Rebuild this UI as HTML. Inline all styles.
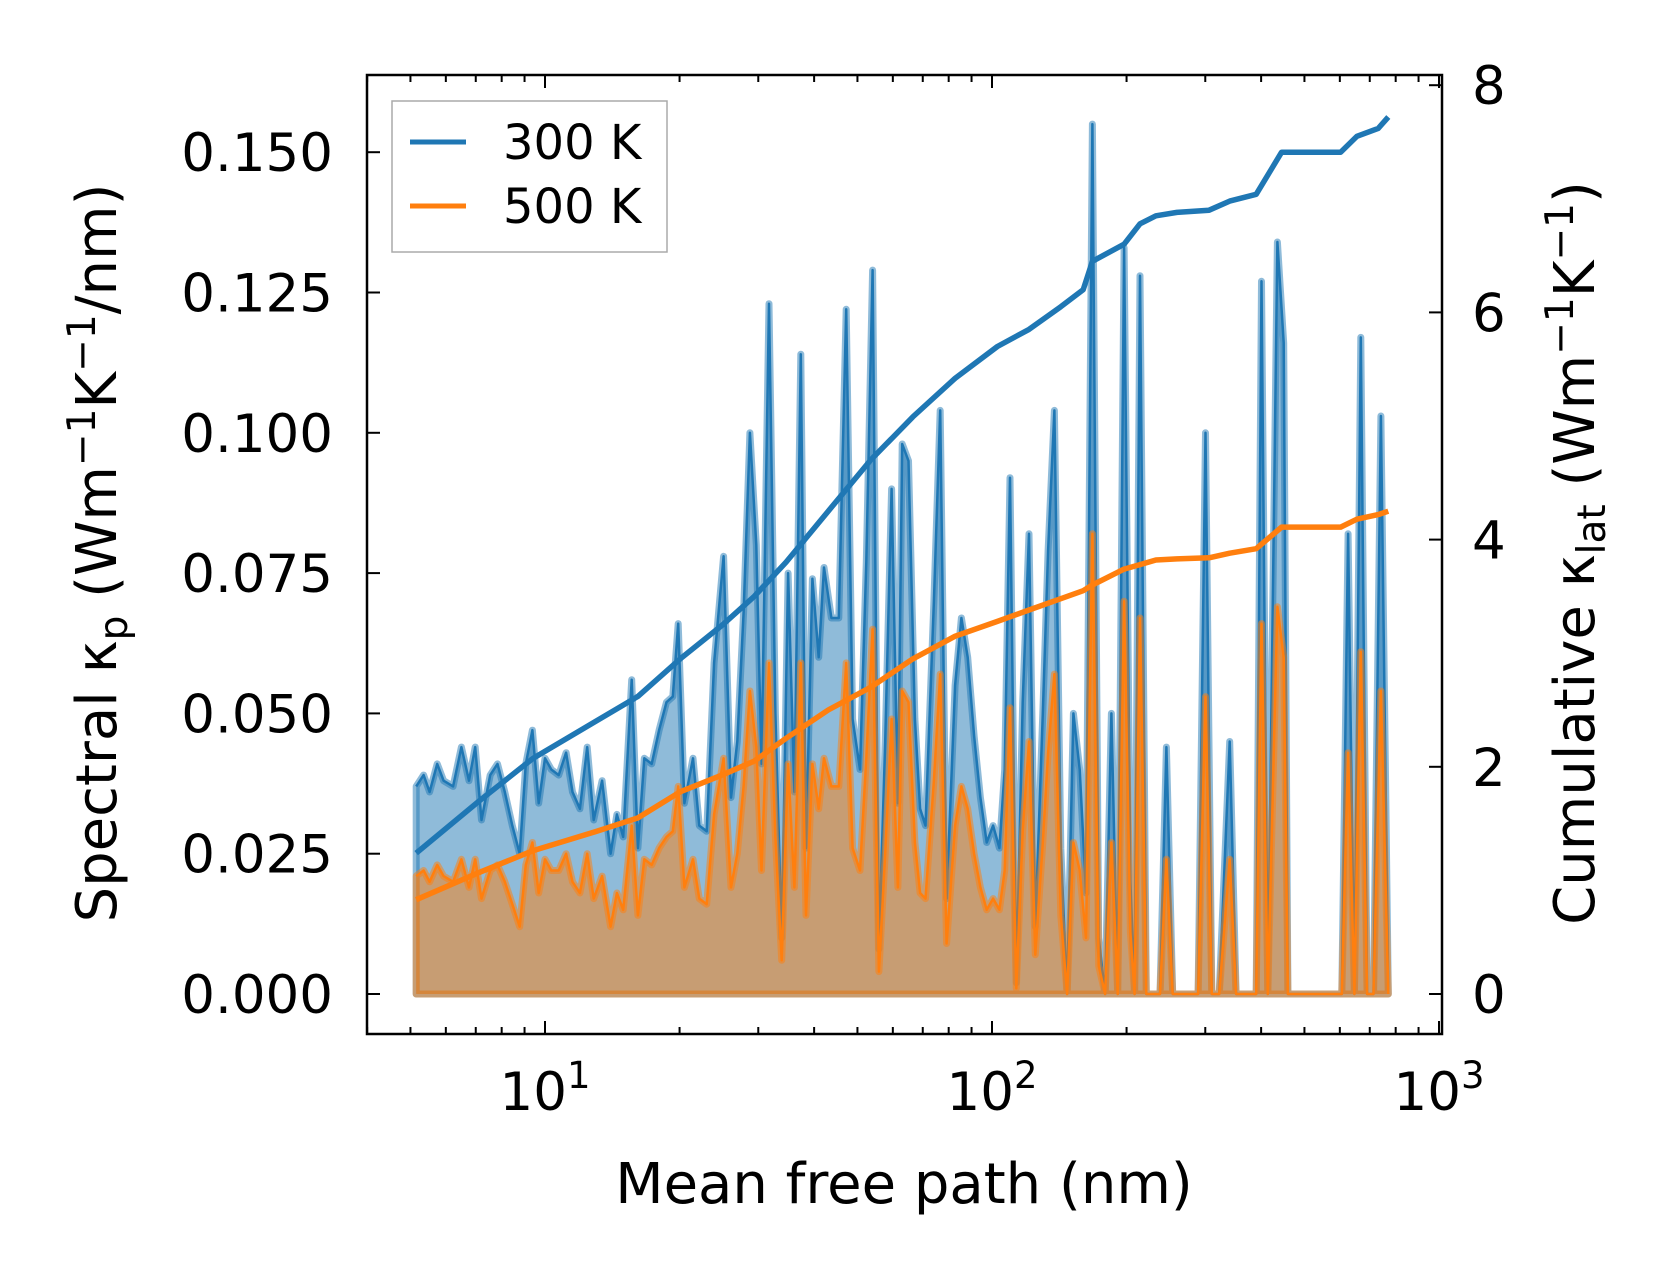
<!DOCTYPE html>
<html><head><meta charset="utf-8"><style>
body{margin:0;background:#fff}
svg text{font-family:"DejaVu Sans","Liberation Sans",sans-serif;fill:#000}
</style></head><body>
<svg id="chart" width="1660" height="1269" viewBox="0 0 1660 1269" xmlns="http://www.w3.org/2000/svg">
<rect width="1660" height="1269" fill="#fff"/>
<g id="plot"></g>
<g id="axes"></g>
</svg>
<script>
const mfp=[5.15,5.35,5.52,5.74,5.93,6.23,6.50,6.76,6.98,7.21,7.54,7.83,8.13,8.45,8.78,9.06,9.37,9.68,10,10.33,10.73,11.15,11.52,11.97,12.43,12.85,13.42,14.02,14.48,14.96,15.63,16.14,16.68,17.33,18.00,18.70,19.32,19.86,20.51,21.43,22.14,23.00,23.89,25.09,26.07,26.93,27.82,28.74,29.70,30.51,31.71,32.76,33.85,34.98,36.14,37.34,38.37,39.65,40.96,42.09,43.73,45.43,47.19,48.76,50.66,52.33,54.07,55.85,57.70,59.62,61.60,62.96,65.04,67.21,69.06,70.98,74.13,76.59,79.13,82.67,85.42,88.25,91.18,94.19,97.32,100.55,103.87,106.76,109.70,113.35,117.12,120.99,125.0,129.9,133.5,137.9,142.5,147.2,152.1,157.1,162.3,167.7,173.3,179.1,185.0,191.1,197.5,204.0,208.5,214.3,221.4,230.0,237.6,245.5,253.7,262.0,270.7,289.1,300.3,310.2,322.3,340.3,351.6,369.3,389.9,400.7,414.0,434.9,449.4,459.2,498.2,586.6,606.0,626.1,646.9,668.6,690.6,713.5,741.3,770.0];
const spec300=[.037,.039,.036,.041,.038,.037,.044,.038,.044,.031,.039,.041,.036,.030,.025,.041,.047,.034,.042,.040,.039,.043,.036,.033,.044,.031,.038,.025,.032,.028,.056,.026,.042,.041,.047,.052,.053,.066,.034,.042,.030,.029,.059,.078,.035,.045,.068,.100,.080,.041,.123,.050,.010,.075,.036,.114,.026,.074,.060,.076,.067,.067,.122,.049,.040,.077,.129,.008,.045,.090,.034,.098,.095,.049,.033,.030,.070,.104,.017,.055,.067,.060,.046,.035,.027,.030,.026,.040,.092,.002,.052,.082,.012,.050,.079,.104,.026,0,.050,.040,.018,.155,.010,0,.050,0,.133,.020,0,.128,0,0,0,.044,0,0,0,0,.100,0,0,.045,0,0,0,.127,0,.134,.116,0,0,0,0,.082,0,.117,0,0,.103,0];
const spec500=[.021,.022,.020,.023,.021,.020,.024,.019,.024,.017,.022,.023,.020,.016,.012,.023,.027,.018,.024,.022,.022,.025,.020,.018,.025,.017,.021,.012,.018,.015,.030,.014,.024,.023,.026,.028,.029,.037,.019,.024,.017,.016,.032,.042,.019,.025,.037,.054,.044,.022,.059,.028,.006,.041,.019,.059,.014,.041,.033,.042,.037,.037,.059,.026,.022,.042,.065,.004,.025,.049,.019,.054,.052,.027,.018,.017,.038,.057,.009,.030,.037,.033,.025,.019,.015,.017,.015,.022,.051,.001,.029,.045,.007,.027,.043,.057,.014,0,.027,.022,.010,.082,.005,0,.027,0,.070,.011,0,.067,0,0,0,.024,0,0,0,0,.053,0,0,.024,0,0,0,.066,0,.069,.060,0,0,0,0,.043,0,.061,0,0,.054,0];
const cumX=[5.15,7.13,9.37,12.98,16.14,20.07,24.96,29.38,34.6,43.0,53.5,66.5,82.7,102.8,121.0,142.5,160,167.7,197.5,214.3,232.6,259.2,305.9,340.3,389.9,444.5,602.8,655,731,770];
const cum300=[1.24,1.70,2.07,2.40,2.62,2.95,3.25,3.5,3.8,4.25,4.7,5.08,5.42,5.7,5.85,6.05,6.2,6.45,6.6,6.78,6.85,6.88,6.9,6.98,7.04,7.41,7.41,7.55,7.62,7.72];
const cum500=[.83,1.07,1.26,1.43,1.55,1.78,1.93,2.05,2.25,2.5,2.7,2.95,3.15,3.28,3.38,3.48,3.55,3.6,3.74,3.78,3.82,3.83,3.84,3.88,3.92,4.11,4.11,4.18,4.22,4.25];
const yTicks=["0.000","0.025","0.050","0.075","0.100","0.125","0.150"];
const y2Ticks=[0,2,4,6,8];
const xDecades=[1,2,3];

const L=367,R=1442,T=75,B=1034;
const X=v=>545+(Math.log10(v)-1)*447;
const Y=v=>994-v/0.025*140.3;
const Y2=v=>994-v*113.6;
const NS='http://www.w3.org/2000/svg';
function mk(tag,parent,attrs,name){const e=document.createElementNS(NS,tag);for(const k in attrs)e.setAttribute(k,attrs[k]);


parent.appendChild(e);return e;}
const plot=document.getElementById('plot'),axes=document.getElementById('axes');
function area(vals,col,name){
  const n=Math.min(mfp.length,vals.length);
  let d=`M${X(mfp[0])},${Y(0)}`;
  for(let i=0;i<n;i++)d+=`L${X(mfp[i]).toFixed(1)},${Y(vals[i]).toFixed(1)}`;
  d+=`L${X(mfp[n-1])},${Y(0)}Z`;
  mk('path',plot,{d,fill:col,'fill-opacity':0.5,stroke:col,'stroke-opacity':0.5,'stroke-width':7,'stroke-linejoin':'round'},name+'-area');
  let l='';for(let i=0;i<n;i++)l+=(i?'L':'M')+X(mfp[i]).toFixed(1)+','+Y(vals[i]).toFixed(1);
  mk('path',plot,{d:l,fill:'none',stroke:col,'stroke-width':2.5,'stroke-linejoin':'round'},name+'-line');
}
area(spec300,'#1f77b4','spectral-300k');
area(spec500,'#ff7f0e','spectral-500k');
function cum(vals,col,name){let l='';for(let i=0;i<vals.length;i++)l+=(i?'L':'M')+X(cumX[i]).toFixed(1)+','+Y2(vals[i]).toFixed(1);
mk('path',plot,{d:l,fill:'none',stroke:col,'stroke-width':5.5,'stroke-linejoin':'round'},name);}
cum(cum300,'#1f77b4','cumulative-300k');
cum(cum500,'#ff7f0e','cumulative-500k');
mk('rect',axes,{x:L,y:T,width:R-L,height:B-T,fill:'none',stroke:'#000','stroke-width':2.5},'axes-frame');
yTicks.forEach(t=>{const y=Y(parseFloat(t));
mk('line',axes,{x1:L,x2:L+13,y1:y,y2:y,stroke:'#000','stroke-width':2},'y-tick');
const tx=mk('text',axes,{x:L-34,y:y+19,'font-size':53,'text-anchor':'end'},'y-tick-label');tx.textContent=t;});
y2Ticks.forEach(t=>{const y=Y2(t);
mk('line',axes,{x1:R-13,x2:R,y1:y,y2:y,stroke:'#000','stroke-width':2},'y2-tick');
const tx=mk('text',axes,{x:R+30,y:y+19,'font-size':53},'y2-tick-label');tx.textContent=t;});
for(let d=0;d<=3;d++)for(let m=1;m<10;m++){const v=m*Math.pow(10,d);const x=X(v);if(x<L||x>R)continue;
const len=m===1?13:7;
mk('line',axes,{x1:x,x2:x,y1:B,y2:B-len,stroke:'#000','stroke-width':2},'x-tick');
mk('line',axes,{x1:x,x2:x,y1:T,y2:T+len,stroke:'#000','stroke-width':2},'x-tick-top');}
xDecades.forEach(p=>{const x=X(Math.pow(10,p));
const tx=mk('text',axes,{x:x,y:1110,'font-size':53,'text-anchor':'middle'},'x-tick-label');
tx.innerHTML='10<tspan dy="-22" font-size="37">'+p+'</tspan>';});
</script>
<svg style="position:absolute;left:0;top:0" width="1660" height="1269">
<text x="904" y="1203" font-size="56" text-anchor="middle" style="font-family:'DejaVu Sans','Liberation Sans',sans-serif">Mean free path (nm)</text>
<text transform="translate(116,553) rotate(-90)" font-size="56" text-anchor="middle" style="font-family:'DejaVu Sans','Liberation Sans',sans-serif">Spectral κ<tspan font-size="39" dy="11">p</tspan><tspan dy="-11"> (Wm</tspan><tspan font-size="39" dy="-21">−1</tspan><tspan dy="21">K</tspan><tspan font-size="39" dy="-21">−1</tspan><tspan dy="21">/nm)</tspan></text>
<text transform="translate(1594,553) rotate(-90)" font-size="56" text-anchor="middle" style="font-family:'DejaVu Sans','Liberation Sans',sans-serif">Cumulative κ<tspan font-size="39" dy="11">lat</tspan><tspan dy="-11"> (Wm</tspan><tspan font-size="39" dy="-21">−1</tspan><tspan dy="21">K</tspan><tspan font-size="39" dy="-21">−1</tspan><tspan dy="21">)</tspan></text>
<g>
<rect x="392" y="101" width="275" height="151" fill="#fff" fill-opacity="0.8" stroke="#aaa" stroke-width="1.5"/>
<line x1="410" x2="466" y1="142" y2="142" stroke="#1f77b4" stroke-width="5"/>
<text x="503" y="159" font-size="48" style="font-family:'DejaVu Sans','Liberation Sans',sans-serif">300 K</text>
<line x1="410" x2="466" y1="206" y2="206" stroke="#ff7f0e" stroke-width="5"/>
<text x="503" y="223" font-size="48" style="font-family:'DejaVu Sans','Liberation Sans',sans-serif">500 K</text>
</g>
</svg>
</body></html>
